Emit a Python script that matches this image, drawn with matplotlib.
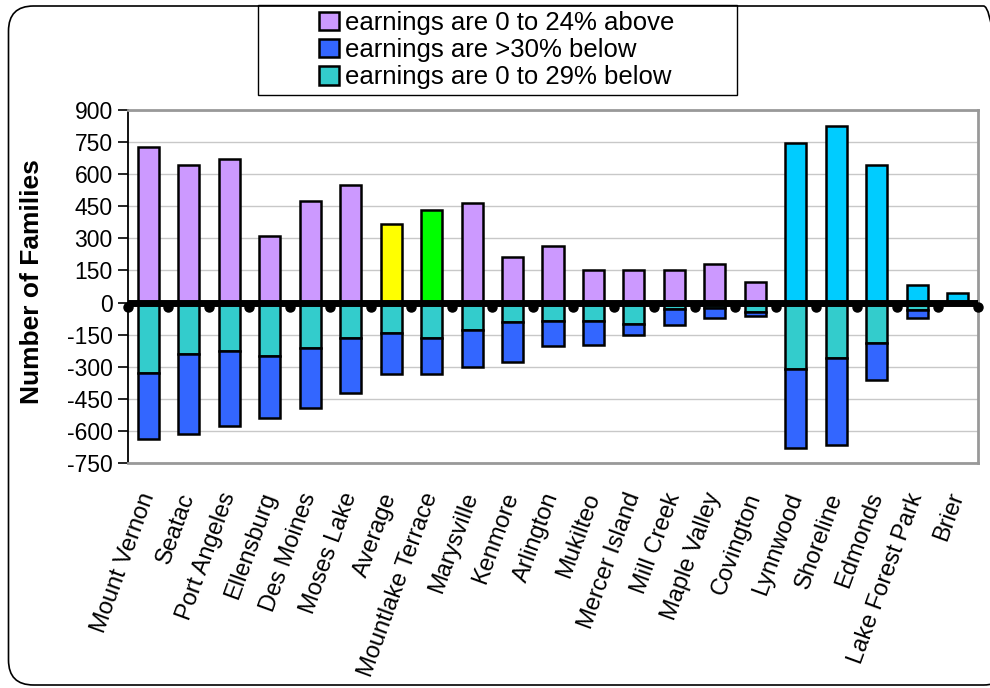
import numpy as np
import matplotlib
matplotlib.use('Agg')
import matplotlib.pyplot as plt
from matplotlib.patches import Patch, FancyBboxPatch, Rectangle
from matplotlib.transforms import IdentityTransform

plt.rcParams['font.family'] = ['Liberation Sans', 'DejaVu Sans']
plt.rcParams['axes.unicode_minus'] = False

cities = ['Mount Vernon', 'Seatac', 'Port Angeles', 'Ellensburg', 'Des Moines',
          'Moses Lake', 'Average', 'Mountlake Terrace', 'Marysville', 'Kenmore',
          'Arlington', 'Mukilteo', 'Mercer Island', 'Mill Creek', 'Maple Valley',
          'Covington', 'Lynnwood', 'Shoreline', 'Edmonds', 'Lake Forest Park', 'Brier']

# families with earnings 0 to 24% above
above = [725, 644, 670, 309, 475, 550, 366, 432, 467, 215,
         266, 154, 151, 151, 182, 97, 748, 826, 642, 84, 43]
# families with earnings 0 to 29% below (drawn downward)
below_0_29 = [327, 240, 226, 249, 212, 164, 143, 165, 126, 90,
              87, 84, 101, 30, 25, 42, 310, 259, 190, 37, 0]
# families with earnings >30% below (stacked under the previous)
below_30 = [310, 374, 351, 289, 282, 260, 191, 167, 173, 189,
            117, 114, 53, 74, 45, 20, 371, 405, 170, 33, 0]

labels = ['earnings are 0 to 24% above', 'earnings are >30% below',
          'earnings are 0 to 29% below']

purple = '#CC99FF'
blue = '#3366FF'
teal = '#33CCCC'
special = {'Average': '#FFFF00', 'Mountlake Terrace': '#00FF00',
           'Lynnwood': '#00CCFF', 'Shoreline': '#00CCFF', 'Edmonds': '#00CCFF',
           'Lake Forest Park': '#00CCFF', 'Brier': '#00CCFF'}
top_colors = [special.get(c, purple) for c in cities]

fig = plt.figure(figsize=(9.9, 6.88), dpi=100)
ax = fig.add_axes([128 / 990, 1 - 463 / 688, 850 / 990, 353 / 688])

x = np.arange(len(cities))
w = 0.52
neg1 = -np.array(below_0_29)
neg2 = -np.array(below_30)

ax.bar(x, above, w, color=top_colors, edgecolor='black', linewidth=1.8, zorder=3)
ax.bar(x, neg1, w, color=teal, edgecolor='black', linewidth=1.8, zorder=3)
ax.bar(x, neg2, w, bottom=neg1, color=blue, edgecolor='black', linewidth=1.8, zorder=3)

# thick zero axis with hanging tick marks
ax.axhline(0, color='black', linewidth=5, zorder=4)
bounds = np.arange(len(cities) + 1) - 0.5
ax.plot(bounds, np.full(len(bounds), -22), 'o', color='black', markersize=6.5,
        zorder=4, clip_on=False)

ax.set_xlim(-0.5, len(cities) - 0.5)
ax.set_ylim(-750, 900)
ax.set_yticks(np.arange(-750, 901, 150))
ax.tick_params(axis='y', labelsize=16.5, length=7, width=1.2, direction='out', pad=4)
ax.yaxis.grid(True, color='#C8C8C8', linewidth=1)
ax.set_axisbelow(True)

ax.set_xticks(x)
ax.set_xticklabels(cities, rotation=70, ha='right', va='center',
                   rotation_mode='anchor', fontsize=17)
ax.tick_params(axis='x', length=0, pad=22)
for t in ax.get_xticklabels():
    t.set_x(t.get_position()[0])

for s in ['top', 'right', 'bottom']:
    ax.spines[s].set_color('#999999')
    ax.spines[s].set_linewidth(2)
ax.spines['left'].set_color('black')
ax.spines['left'].set_linewidth(1.3)

fig.text(32 / 990, 1 - 282 / 688, 'Number of Families', rotation=90,
         fontsize=19, fontweight='bold', ha='center', va='center')

# legend: wide frame drawn separately, entries centred inside it
fig.add_artist(Rectangle((258 / 990, 1 - 95 / 688), 479 / 990, 90 / 688,
                         transform=fig.transFigure, fill=False,
                         edgecolor='black', linewidth=1))
handles = [Patch(facecolor=purple, edgecolor='black', linewidth=1.8),
           Patch(facecolor=blue, edgecolor='black', linewidth=1.8),
           Patch(facecolor=teal, edgecolor='black', linewidth=1.8)]
fig.legend(handles, labels, loc='center', bbox_to_anchor=(497 / 990, 1 - 50 / 688),
           fontsize=18.5, frameon=False, handlelength=0.75, handleheight=0.75,
           handletextpad=0.25, labelspacing=0.12, borderpad=0, borderaxespad=0)

border = FancyBboxPatch((8.5, 3), 1000, 679, boxstyle='round,pad=0,rounding_size=25',
                        transform=IdentityTransform(), fill=False,
                        edgecolor='black', linewidth=1.2)
fig.add_artist(border)

fig.savefig('out.png', dpi=100)
